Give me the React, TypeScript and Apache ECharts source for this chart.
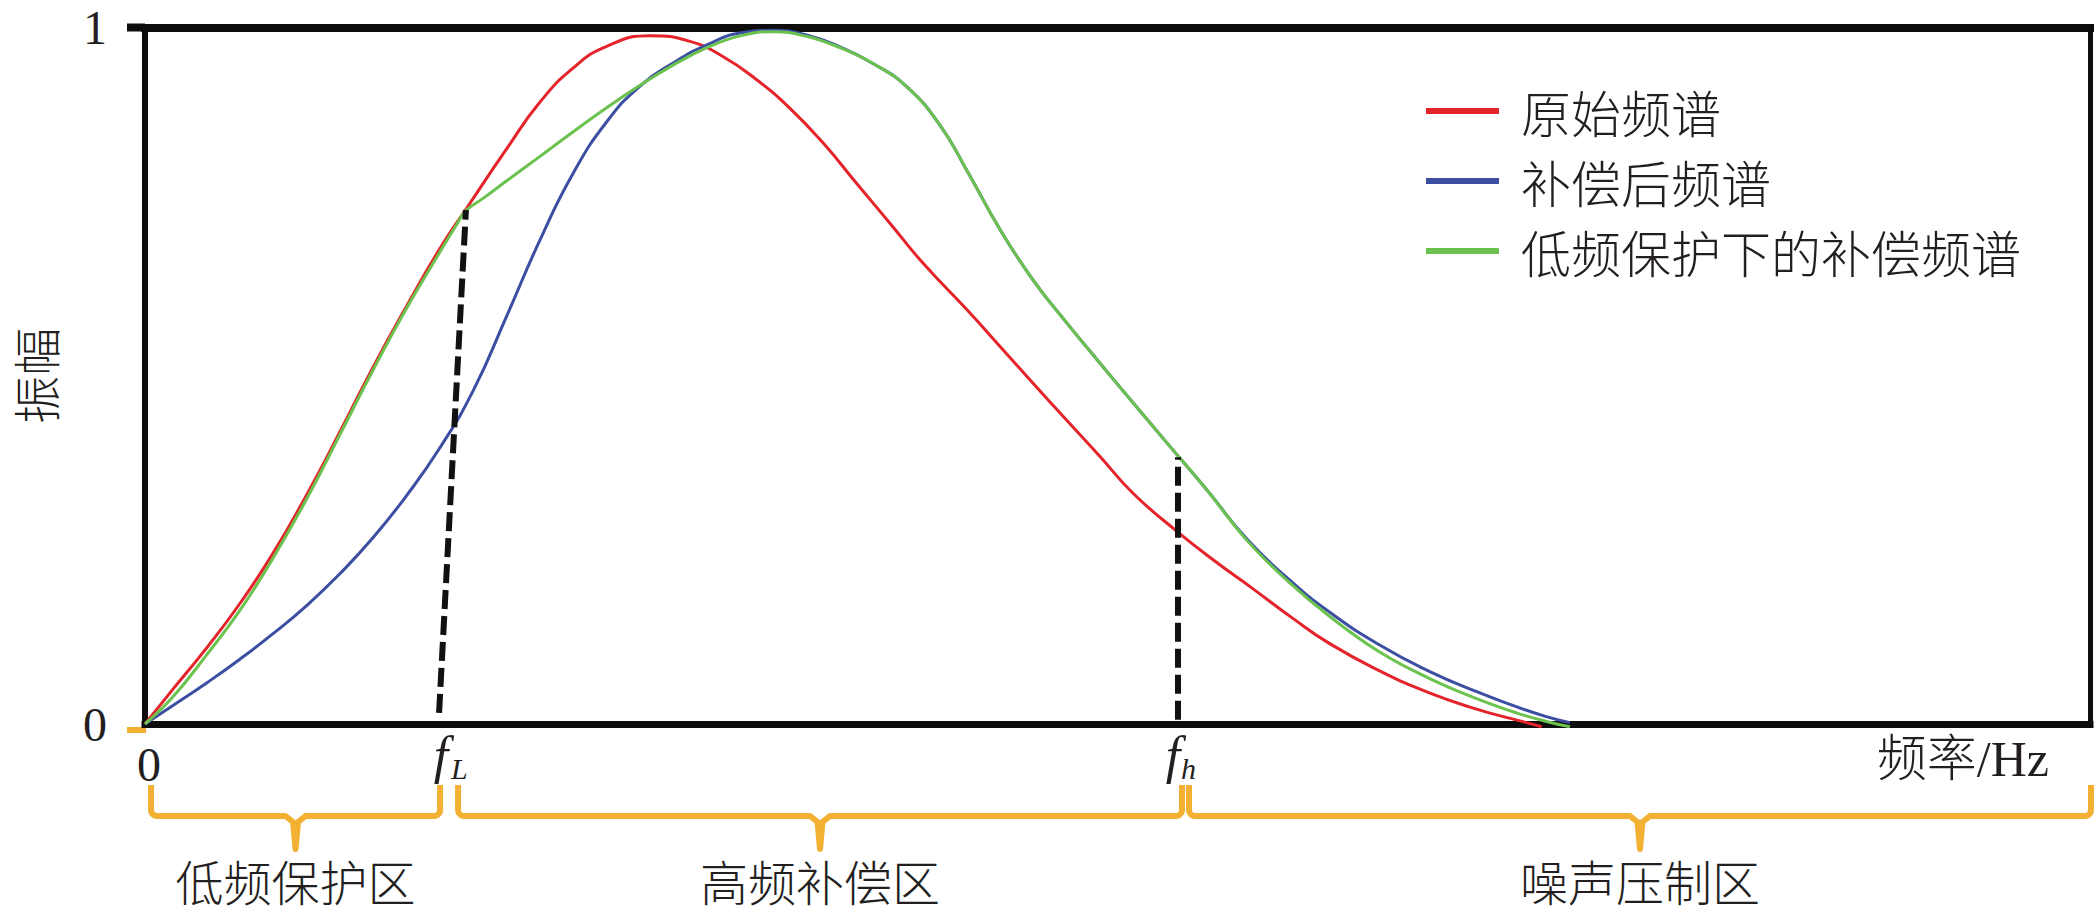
import React, { useEffect, useRef } from 'react';
import * as echarts from 'echarts';

// ---- axis ranges & ticks ----
const X_MIN = 0;
const X_MAX = 100;
const Y_MIN = 0;
const Y_MAX = 1;
const Y_TICK_LABELS = ['0', '1'];

// ---- series names ----
const SERIES_NAMES = ['原始频谱', '补偿后频谱', '低频保护下的补偿频谱'];

// ---- 原始频谱 (red) ----
const redX = [0, 1.44, 3.19, 4.88, 6.58, 8.33, 10.03, 11.72, 13.47, 15.17, 16.5, 18.6, 20.31, 22.02, 23.74, 25.96, 28.02, 29.73, 31.45, 33.16, 34.87, 36.59, 38.3, 40.02, 42.25, 43.96, 45.67, 47.39, 49.1, 50.81, 53.04, 55.0, 56.97, 59.0, 60.93, 63.5, 66.0, 68.5, 70.35, 71.81];
const redY = [0, 0.05, 0.11, 0.173, 0.245, 0.33, 0.42, 0.512, 0.601, 0.683, 0.739, 0.826, 0.893, 0.942, 0.973, 0.988, 0.98, 0.958, 0.925, 0.884, 0.834, 0.776, 0.719, 0.661, 0.595, 0.542, 0.489, 0.436, 0.384, 0.331, 0.277, 0.234, 0.194, 0.152, 0.115, 0.076, 0.045, 0.021, 0.007, -0.004];

// ---- 补偿后频谱 (blue) ----
const blueX = [0, 1.455, 3.17, 4.88, 6.6, 8.31, 10.03, 11.74, 13.45, 15.17, 16.88, 18.6, 20.31, 22.0, 23.75, 25.45, 27.15, 28.89, 30.59, 32.29, 34.04, 35.73, 37.45, 39.16, 40.87, 42.25, 43.96, 45.67, 47.39, 49.1, 50.81, 52.53, 54.6, 56.64, 58.8, 60.93, 63.5, 66.0, 68.5, 70.5, 72.0, 73.26];
const blueY = [0, 0.027, 0.059, 0.093, 0.13, 0.17, 0.216, 0.268, 0.328, 0.397, 0.479, 0.586, 0.695, 0.79, 0.865, 0.916, 0.949, 0.975, 0.992, 0.996, 0.989, 0.972, 0.948, 0.915, 0.86, 0.795, 0.71, 0.637, 0.576, 0.518, 0.461, 0.404, 0.336, 0.266, 0.208, 0.16, 0.113, 0.076, 0.046, 0.025, 0.011, 0.002];

// ---- 低频保护下的补偿频谱 (green) ----
const greenX = [0, 1.44, 3.19, 4.88, 6.58, 8.33, 10.03, 11.72, 13.47, 15.17, 16.0, 16.5, 17.4, 18.6, 20.31, 22.0, 23.75, 25.45, 27.15, 28.89, 30.59, 32.29, 34.04, 35.73, 37.45, 39.16, 40.87, 42.25, 43.96, 45.67, 47.39, 49.1, 50.81, 52.53, 54.6, 56.64, 58.8, 60.93, 63.5, 66.0, 68.5, 70.5, 72.0, 73.26];
const greenY = [0, 0.039, 0.1, 0.163, 0.238, 0.324, 0.416, 0.508, 0.598, 0.678, 0.716, 0.737, 0.755, 0.78, 0.815, 0.85, 0.885, 0.917, 0.946, 0.971, 0.988, 0.994, 0.987, 0.971, 0.948, 0.915, 0.86, 0.795, 0.71, 0.637, 0.576, 0.518, 0.461, 0.404, 0.336, 0.264, 0.204, 0.154, 0.103, 0.066, 0.036, 0.016, 0.004, -0.004];

// ---- boundary frequencies (dashed markers) ----
const F_L = 15.12;
const F_L_TOP = [16.5, 0.738];
const F_H = 53.11;
const F_H_TOP = 0.383;
const F_L_LABEL = ['f', 'L'];
const F_H_LABEL = ['f', 'h'];
const X_ZERO_LABEL = '0';
const X_NAME = '频率/Hz';
const Y_NAME = '振幅';

// ---- zones (braces under the axis) ----
const ZONE_NAMES = ['低频保护区', '高频补偿区', '噪声压制区'];
const ZONE_EDGES = [X_MIN, F_L, F_H, X_MAX];

const RED = '#e5232a';
const BLUE = '#3b4ea2';
const GREEN = '#6cc24f';
const ORANGE = '#f2b132';
const INK = '#231f20';
const AXIS = '#0d0d0d';

const pairs = (xs: number[], ys: number[]) => xs.map((x, i) => [x, ys[i]]);

export default function App() {
  const ref = useRef<HTMLDivElement>(null);

  useEffect(() => {
    const chart = echarts.init(ref.current!, null, { renderer: 'svg' });
    const CJK = '"Noto Sans CJK SC", sans-serif';
    const SERIF = '"Liberation Serif", "Times New Roman", serif';
    const MIX = '"Liberation Serif", "Noto Sans CJK SC", serif';

    const hiddenAxisParts = {
      axisTick: { show: false },
      axisLabel: { show: false },
      splitLine: { show: false },
    };

    chart.setOption({
      animation: false,
      backgroundColor: '#ffffff',
      grid: { left: 145, right: 6, top: 27.5, bottom: 191, containLabel: false },
      xAxis: [
        {
          type: 'value', min: X_MIN, max: X_MAX, position: 'bottom',
          axisLine: { show: true, onZero: false, lineStyle: { color: AXIS, width: 7, cap: 'square' } },
          ...hiddenAxisParts,
        },
        {
          type: 'value', min: X_MIN, max: X_MAX, position: 'top',
          axisLine: { show: true, onZero: false, lineStyle: { color: AXIS, width: 8, cap: 'square' } },
          ...hiddenAxisParts,
        },
      ],
      yAxis: [
        {
          type: 'value', min: Y_MIN, max: Y_MAX, interval: 1, position: 'left',
          axisLine: { show: true, onZero: false, lineStyle: { color: AXIS, width: 6, cap: 'square' } },
          axisTick: { show: false },
          splitLine: { show: false },
          axisLabel: {
            margin: 38, fontFamily: SERIF, fontSize: 48, color: INK,
            formatter: (v: number) => Y_TICK_LABELS[Math.round(v)] ?? '',
          },
        },
        {
          type: 'value', min: Y_MIN, max: Y_MAX, position: 'right',
          axisLine: { show: true, onZero: false, lineStyle: { color: AXIS, width: 5, cap: 'square' } },
          ...hiddenAxisParts,
        },
      ],
      legend: {
        data: SERIES_NAMES,
        orient: 'vertical',
        left: 1426,
        top: 86,
        padding: 0,
        itemWidth: 73,
        itemHeight: 6,
        itemGap: 20,
        icon: 'rect',
        selectedMode: false,
        textStyle: { fontFamily: CJK, fontSize: 50, fontWeight: 300, lineHeight: 50, color: INK, padding: [0, 0, 0, 17] },
      },
      series: [
        {
          name: SERIES_NAMES[0], type: 'line', data: pairs(redX, redY), smooth: 0.5, symbol: 'none',
          lineStyle: { color: RED, width: 3 }, itemStyle: { color: RED }, z: 3, clip: false,
        },
        {
          name: SERIES_NAMES[1], type: 'line', data: pairs(blueX, blueY), smooth: 0.5, symbol: 'none',
          lineStyle: { color: BLUE, width: 3 }, itemStyle: { color: BLUE }, z: 3, clip: false,
        },
        {
          name: SERIES_NAMES[2], type: 'line', data: pairs(greenX, greenY), smooth: 0.45, symbol: 'none',
          lineStyle: { color: GREEN, width: 3 }, itemStyle: { color: GREEN }, z: 3, clip: false,
        },
        {
          name: 'fL', type: 'line', data: [[F_L, 0.016], F_L_TOP], symbol: 'none', silent: true,
          lineStyle: { color: '#111111', width: 6, type: [19, 7] }, z: 5,
        },
        {
          name: 'fh', type: 'line', data: [[F_H, 0.006], [F_H, F_H_TOP]], symbol: 'none', silent: true,
          lineStyle: { color: '#111111', width: 6, type: [19, 7] }, z: 5,
        },
      ],
    });

    const px = (x: number, y: number) => chart.convertToPixel({ xAxisIndex: 0, yAxisIndex: 0 }, [x, y]) as number[];
    const [x0, y0] = px(X_MIN, Y_MIN);
    const [, yTop] = px(X_MIN, Y_MAX);
    const edgesPx = ZONE_EDGES.map((e) => px(e, 0)[0]);
    const insets = [[6, 1], [19, 4], [11, 1]];

    const txt = (text: string, x: number, y: number, extra: any, rotation = 0) => ({
      type: 'text', x, y, rotation, silent: true,
      style: { text, fill: INK, align: 'center', verticalAlign: 'middle', textAlign: 'center', textVerticalAlign: 'middle', ...extra },
    });

    const brace = (xl: number, xr: number) => {
      const xm = (xl + xr) / 2;
      const t = y0 + 61, h = y0 + 92, tip = y0 + 125, r = 6;
      const pts: number[][] = [[xl, t]];
      for (let i = 0; i <= 6; i++) {
        const a = Math.PI - (i / 6) * (Math.PI / 2);
        pts.push([xl + r + r * Math.cos(a), h - r + r * Math.sin(a)]);
      }
      pts.push([xm - 10, h], [xm - 2.5, h + 6], [xm, tip], [xm + 2.5, h + 6], [xm + 10, h]);
      for (let i = 0; i <= 6; i++) {
        const a = Math.PI / 2 - (i / 6) * (Math.PI / 2);
        pts.push([xr - r + r * Math.cos(a), h - r + r * Math.sin(a)]);
      }
      pts.push([xr, t]);
      return {
        type: 'polyline', silent: true,
        shape: { points: pts },
        style: { stroke: ORANGE, lineWidth: 6, fill: null, lineJoin: 'round', lineCap: 'butt' },
      };
    };

    const graphics: any[] = [
      { type: 'line', silent: true, shape: { x1: x0 - 18, y1: yTop, x2: x0, y2: yTop }, style: { stroke: AXIS, lineWidth: 8 } },
      { type: 'line', silent: true, shape: { x1: x0 - 18, y1: y0 + 6, x2: x0 + 1, y2: y0 + 6 }, style: { stroke: ORANGE, lineWidth: 6 } },
      txt(Y_NAME, 34, (y0 + yTop) / 2, { fontFamily: CJK, fontSize: 48, lineHeight: 48, fontWeight: 300 }, Math.PI / 2),
      txt(X_ZERO_LABEL, x0 + 4, y0 + 40, { fontFamily: SERIF, fontSize: 48, lineHeight: 48 }),
      txt(F_L_LABEL[0], px(F_L, 0)[0] + 2, y0 + 31, { fontFamily: SERIF, fontSize: 52, lineHeight: 52, fontStyle: 'italic' }),
      txt(F_L_LABEL[1], px(F_L, 0)[0] + 12, y0 + 44, { fontFamily: SERIF, fontSize: 30, lineHeight: 30, fontStyle: 'italic', align: 'left', textAlign: 'left' }),
      txt(F_H_LABEL[0], px(F_H, 0)[0] - 5, y0 + 31, { fontFamily: SERIF, fontSize: 52, lineHeight: 52, fontStyle: 'italic' }),
      txt(F_H_LABEL[1], px(F_H, 0)[0] + 3, y0 + 44, { fontFamily: SERIF, fontSize: 30, lineHeight: 30, fontStyle: 'italic', align: 'left', textAlign: 'left' }),
      txt(X_NAME, px(X_MAX, 0)[0] - 41, y0 + 35, { fontFamily: MIX, fontSize: 50, lineHeight: 50, fontWeight: 300, align: 'right', textAlign: 'right' }),
    ];
    ZONE_NAMES.forEach((name, i) => {
      const xl = edgesPx[i] + insets[i][0];
      const xr = edgesPx[i + 1] + insets[i][1];
      graphics.push(brace(xl, xr));
      graphics.push(txt(name, (xl + xr) / 2, y0 + 156, { fontFamily: CJK, fontSize: 48, lineHeight: 48, fontWeight: 300 }));
    });

    chart.setOption({ graphic: { elements: graphics } });

    return () => chart.dispose();
  }, []);

  return (
    <div
      ref={ref}
      style={{ position: 'fixed', left: 0, top: 0, width: 2096, height: 915, background: '#fff' }}
    />
  );
}
